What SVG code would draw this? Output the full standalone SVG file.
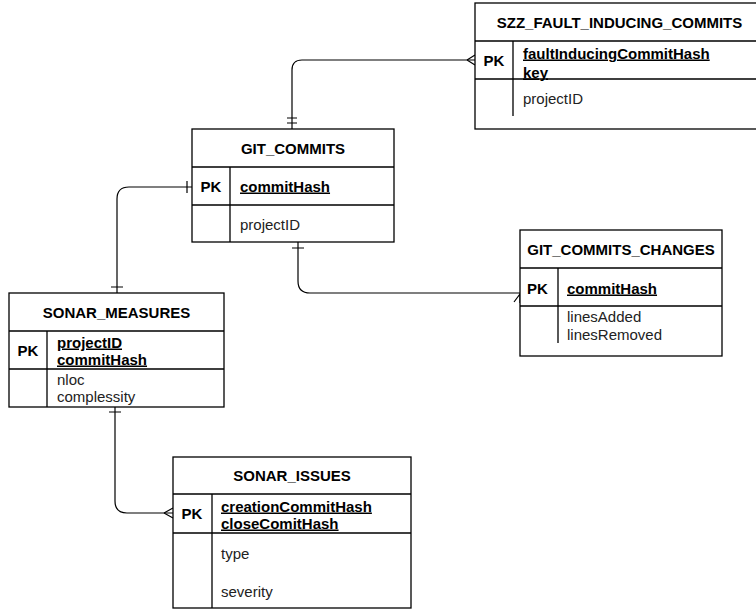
<svg xmlns="http://www.w3.org/2000/svg" width="756" height="610" viewBox="0 0 756 610">
<style>
.box{fill:#fff;stroke:#000;stroke-width:1.3}
.ln{stroke:#000;stroke-width:1.3;fill:none}
.cn{stroke:#000;stroke-width:1.2;fill:none}
.t{font-family:"Liberation Sans",Arial,sans-serif;font-size:15px;font-weight:bold;fill:#000;text-anchor:middle}
.pk{font-family:"Liberation Sans",Arial,sans-serif;font-size:15px;font-weight:bold;fill:#000;text-anchor:middle}
.k{font-family:"Liberation Sans",Arial,sans-serif;font-size:15px;font-weight:bold;fill:#000;text-decoration:underline}
.a{font-family:"Liberation Sans",Arial,sans-serif;font-size:15px;fill:#222}
</style>
<rect width="756" height="610" fill="#fff"/>
<g id="connectors">
  <path class="cn" d="M475,60 H302 Q292,60 292,70 V129"/>
  <path class="cn" d="M467,60 L475,55 M467,60 L475,65"/>
  <path class="cn" d="M287,118 H297 M287,123 H297"/>
  <path class="cn" d="M192,187 H129 Q117,187 117,199 V293"/>
  <path class="cn" d="M187,181 V193 M111,287 H123"/>
  <path class="cn" d="M298,242 V281 Q298,293 310,293 H520"/>
  <path class="cn" d="M292,248 H304 M514,302 L520,294 L526,302 M520,294 V303"/>
  <path class="cn" d="M115,407 V501 Q115,513 127,513 H173"/>
  <path class="cn" d="M109,412 H121 M164,513 L173,508 M164,513 L173,518"/>
</g>
<g id="szz">
  <rect class="box" x="475" y="3" width="289" height="126"/>
  <path class="ln" d="M475,41 H764 M475,79 H764 M513,41 V116"/>
  <text class="t" x="619.5" y="27.5">SZZ_FAULT_INDUCING_COMMITS</text>
  <text class="pk" x="494" y="65.5">PK</text>
  <text class="k" x="523" y="58.5">faultInducingCommitHash</text>
  <text class="k" x="523" y="77.5">key</text>
  <text class="a" x="523" y="103.5">projectID</text>
</g>
<g id="git_commits">
  <rect class="box" x="192" y="129" width="202" height="113"/>
  <path class="ln" d="M192,167 H394 M192,205 H394 M230,167 V242"/>
  <text class="t" x="293" y="153.5">GIT_COMMITS</text>
  <text class="pk" x="211" y="191.5">PK</text>
  <text class="k" x="240" y="191.5">commitHash</text>
  <text class="a" x="240" y="229.5">projectID</text>
</g>
<g id="git_commits_changes">
  <rect class="box" x="520" y="230" width="202" height="126"/>
  <path class="ln" d="M520,268 H722 M520,306 H722 M558,268 V343"/>
  <text class="t" x="621" y="255">GIT_COMMITS_CHANGES</text>
  <text class="pk" x="537.5" y="293.5">PK</text>
  <text class="k" x="567" y="293.5">commitHash</text>
  <text class="a" x="567" y="322">linesAdded</text>
  <text class="a" x="567" y="339.5">linesRemoved</text>
</g>
<g id="sonar_measures">
  <rect class="box" x="9" y="293" width="215" height="114"/>
  <path class="ln" d="M9,331 H224 M9,369 H224 M47,331 V407"/>
  <text class="t" x="116.5" y="317.5">SONAR_MEASURES</text>
  <text class="pk" x="28" y="355.5">PK</text>
  <text class="k" x="57" y="347.5">projectID</text>
  <text class="k" x="57" y="364.5">commitHash</text>
  <text class="a" x="57" y="384.5">nloc</text>
  <text class="a" x="57" y="402">complessity</text>
</g>
<g id="sonar_issues">
  <rect class="box" x="173" y="457" width="238" height="151"/>
  <path class="ln" d="M173,494 H411 M173,533 H411 M212,494 V608"/>
  <text class="t" x="292" y="481">SONAR_ISSUES</text>
  <text class="pk" x="192" y="519">PK</text>
  <text class="k" x="221" y="511.5">creationCommitHash</text>
  <text class="k" x="221" y="528.5">closeComitHash</text>
  <text class="a" x="221" y="558.5">type</text>
  <text class="a" x="221" y="596.5">severity</text>
</g>
</svg>
